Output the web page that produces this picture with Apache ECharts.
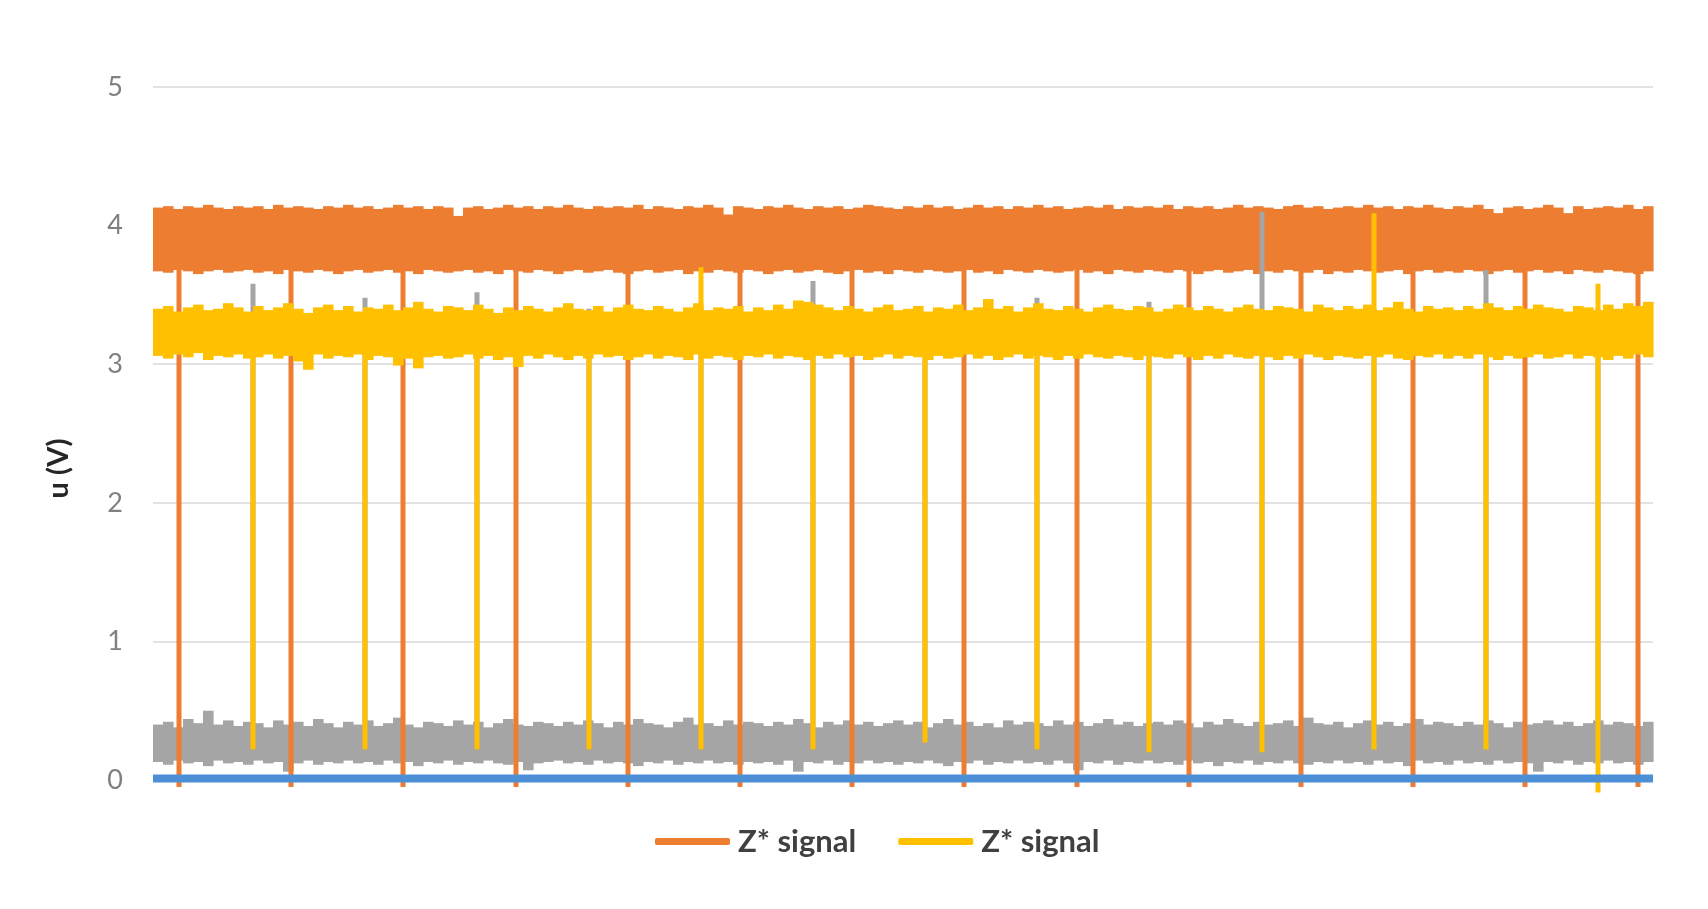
<!DOCTYPE html>
<html>
<head>
<meta charset="utf-8">
<title>Z* signal</title>
<script src="https://cdn.jsdelivr.net/npm/echarts@6/dist/echarts.min.js"></script>
<style>
  html, body { margin: 0; padding: 0; background: #fff; }
  #main { width: 1708px; height: 909px; }
</style>
</head>
<body>
<div id="main"></div>
<script>
// x = sample index (0..1500), the noise envelopes are read every 10 samples
const STEP = 10

// orange Z* signal: upper / lower edge of the noise band
const orangeHi = [
  4.13,4.14,4.12,4.14,4.13,4.15,4.13,4.12,4.14,4.13,
  4.14,4.12,4.15,4.13,4.14,4.13,4.12,4.14,4.13,4.15,
  4.13,4.14,4.12,4.13,4.15,4.13,4.14,4.12,4.14,4.13,
  4.07,4.13,4.14,4.12,4.13,4.15,4.13,4.14,4.12,4.14,
  4.13,4.15,4.13,4.12,4.14,4.13,4.14,4.13,4.15,4.12,
  4.14,4.13,4.12,4.14,4.13,4.15,4.13,4.08,4.14,4.13,
  4.12,4.14,4.13,4.15,4.13,4.12,4.14,4.13,4.14,4.12,
  4.13,4.15,4.14,4.13,4.12,4.14,4.13,4.15,4.13,4.14,
  4.12,4.13,4.15,4.13,4.14,4.12,4.14,4.13,4.15,4.13,
  4.14,4.12,4.13,4.14,4.13,4.15,4.12,4.14,4.13,4.14,
  4.13,4.15,4.12,4.14,4.13,4.14,4.12,4.13,4.15,4.13,
  4.14,4.13,4.12,4.14,4.15,4.13,4.14,4.12,4.13,4.14,
  4.13,4.15,4.13,4.14,4.12,4.14,4.13,4.15,4.13,4.12,
  4.14,4.13,4.15,4.12,4.09,4.13,4.14,4.12,4.13,4.15,
  4.13,4.09,4.14,4.12,4.13,4.14,4.13,4.15,4.12,4.14
]
const orangeLo = [
  3.67,3.66,3.68,3.67,3.65,3.67,3.68,3.66,3.67,3.68,
  3.66,3.67,3.65,3.68,3.67,3.66,3.68,3.67,3.65,3.67,
  3.68,3.66,3.67,3.68,3.66,3.67,3.65,3.68,3.67,3.66,
  3.67,3.68,3.66,3.67,3.65,3.68,3.67,3.66,3.68,3.67,
  3.65,3.67,3.68,3.66,3.67,3.68,3.66,3.65,3.67,3.68,
  3.66,3.67,3.68,3.65,3.67,3.66,3.68,3.67,3.66,3.68,
  3.67,3.65,3.67,3.68,3.66,3.67,3.68,3.66,3.65,3.67,
  3.68,3.66,3.67,3.65,3.68,3.67,3.66,3.68,3.67,3.66,
  3.67,3.68,3.66,3.67,3.65,3.68,3.67,3.66,3.68,3.67,
  3.66,3.67,3.68,3.66,3.67,3.65,3.68,3.67,3.66,3.68,
  3.67,3.66,3.68,3.67,3.65,3.67,3.68,3.66,3.67,3.68,
  3.65,3.67,3.66,3.68,3.67,3.66,3.68,3.65,3.67,3.66,
  3.68,3.67,3.66,3.67,3.68,3.65,3.67,3.68,3.66,3.67,
  3.66,3.68,3.67,3.65,3.67,3.68,3.66,3.67,3.68,3.66,
  3.67,3.65,3.68,3.67,3.66,3.68,3.67,3.66,3.65,3.67
]

// yellow Z* signal band
const yellowHi = [
  3.40,3.42,3.38,3.41,3.43,3.39,3.40,3.44,3.41,3.38,
  3.42,3.39,3.41,3.44,3.40,3.37,3.41,3.43,3.39,3.42,
  3.38,3.41,3.40,3.43,3.39,3.41,3.45,3.40,3.38,3.42,
  3.41,3.39,3.43,3.40,3.37,3.41,3.39,3.42,3.40,3.38,
  3.41,3.44,3.40,3.39,3.42,3.38,3.41,3.43,3.40,3.39,
  3.42,3.40,3.38,3.41,3.44,3.39,3.41,3.40,3.42,3.38,
  3.41,3.39,3.43,3.40,3.46,3.45,3.43,3.41,3.39,3.42,
  3.40,3.38,3.41,3.43,3.39,3.40,3.42,3.38,3.41,3.40,
  3.43,3.39,3.41,3.47,3.40,3.42,3.38,3.41,3.44,3.40,
  3.39,3.42,3.40,3.38,3.41,3.43,3.40,3.39,3.42,3.41,
  3.38,3.40,3.43,3.41,3.39,3.42,3.40,3.38,3.41,3.43,
  3.40,3.39,3.42,3.41,3.40,3.38,3.43,3.41,3.39,3.42,
  3.40,3.43,3.39,3.41,3.45,3.40,3.38,3.42,3.40,3.41,
  3.39,3.42,3.40,3.44,3.41,3.39,3.42,3.40,3.43,3.41,
  3.40,3.38,3.42,3.41,3.39,3.43,3.40,3.44,3.42,3.45
]
const yellowLo = [
  3.06,3.04,3.07,3.05,3.08,3.03,3.06,3.05,3.07,3.04,
  3.05,3.07,3.04,3.06,3.02,2.96,3.07,3.04,3.06,3.05,
  3.07,3.03,3.06,3.05,2.99,3.04,2.97,3.05,3.06,3.04,
  3.05,3.07,3.04,3.06,3.03,3.05,2.98,3.06,3.04,3.07,
  3.05,3.03,3.06,3.04,3.07,3.05,3.06,3.03,3.05,3.07,
  3.04,3.06,3.05,3.03,3.07,3.04,3.06,3.05,3.03,3.06,
  3.05,3.07,3.04,3.06,3.05,3.03,3.06,3.04,3.07,3.05,
  3.06,3.03,3.05,3.07,3.04,3.06,3.05,3.03,3.06,3.04,
  3.05,3.07,3.04,3.06,3.03,3.05,3.07,3.04,3.06,3.05,
  3.03,3.06,3.04,3.07,3.05,3.04,3.06,3.05,3.03,3.06,
  3.05,3.04,3.07,3.05,3.03,3.06,3.04,3.07,3.05,3.04,
  3.06,3.05,3.03,3.06,3.04,3.07,3.05,3.03,3.06,3.05,
  3.04,3.06,3.05,3.07,3.04,3.03,3.06,3.05,3.07,3.04,
  3.06,3.04,3.07,3.05,3.03,3.06,3.04,3.05,3.07,3.04,
  3.05,3.07,3.04,3.06,3.05,3.03,3.06,3.04,3.07,3.05
]

// gray trace band
const grayHi = [
  0.40,0.42,0.38,0.44,0.41,0.50,0.40,0.43,0.39,0.42,
  0.41,0.38,0.43,0.40,0.42,0.39,0.44,0.41,0.38,0.42,
  0.40,0.43,0.39,0.41,0.45,0.40,0.38,0.42,0.41,0.39,
  0.43,0.40,0.42,0.38,0.41,0.44,0.40,0.39,0.42,0.41,
  0.39,0.42,0.40,0.43,0.41,0.38,0.42,0.40,0.44,0.41,
  0.40,0.38,0.42,0.45,0.40,0.41,0.39,0.43,0.40,0.42,
  0.41,0.39,0.42,0.40,0.44,0.41,0.38,0.42,0.40,0.43,
  0.40,0.42,0.39,0.41,0.43,0.40,0.42,0.38,0.41,0.44,
  0.40,0.42,0.39,0.41,0.38,0.43,0.40,0.42,0.41,0.39,
  0.43,0.40,0.42,0.39,0.41,0.44,0.40,0.42,0.39,0.41,
  0.42,0.40,0.43,0.41,0.38,0.42,0.40,0.44,0.41,0.39,
  0.42,0.40,0.41,0.43,0.39,0.45,0.41,0.40,0.42,0.38,
  0.41,0.43,0.40,0.42,0.39,0.41,0.44,0.40,0.42,0.41,
  0.39,0.42,0.40,0.43,0.41,0.38,0.42,0.40,0.41,0.43,
  0.40,0.42,0.39,0.41,0.43,0.40,0.42,0.41,0.39,0.42
]
const grayLo = [
  0.13,0.11,0.14,0.12,0.13,0.10,0.14,0.12,0.13,0.11,
  0.14,0.12,0.13,0.06,0.12,0.14,0.11,0.13,0.12,0.14,
  0.12,0.13,0.11,0.14,0.12,0.13,0.10,0.13,0.12,0.14,
  0.11,0.13,0.12,0.14,0.12,0.11,0.13,0.07,0.12,0.13,
  0.14,0.12,0.13,0.11,0.14,0.12,0.13,0.12,0.10,0.13,
  0.12,0.14,0.11,0.13,0.12,0.14,0.12,0.13,0.11,0.13,
  0.12,0.13,0.11,0.14,0.06,0.13,0.12,0.14,0.11,0.13,
  0.12,0.14,0.12,0.13,0.11,0.13,0.12,0.14,0.12,0.10,
  0.13,0.12,0.14,0.11,0.13,0.12,0.14,0.12,0.13,0.11,
  0.14,0.12,0.07,0.13,0.12,0.14,0.11,0.13,0.12,0.14,
  0.12,0.13,0.11,0.14,0.12,0.13,0.10,0.13,0.12,0.14,
  0.11,0.13,0.12,0.14,0.12,0.11,0.13,0.12,0.14,0.12,
  0.13,0.11,0.14,0.12,0.13,0.10,0.14,0.12,0.13,0.11,
  0.14,0.12,0.13,0.11,0.14,0.12,0.13,0.12,0.06,0.13,
  0.12,0.14,0.11,0.13,0.12,0.14,0.12,0.13,0.11,0.13
]

// blue trace, one value every 10 samples (0..1500)
const blueVals = [
  0.01,0.01,0.01,0.01,0.01,0.01,0.01,0.01,0.01,0.01,
  0.01,0.01,0.01,0.01,0.01,0.01,0.01,0.01,0.01,0.01,
  0.01,0.01,0.01,0.01,0.01,0.01,0.01,0.01,0.01,0.01,
  0.01,0.01,0.01,0.01,0.01,0.01,0.01,0.01,0.01,0.01,
  0.01,0.01,0.01,0.01,0.01,0.01,0.01,0.01,0.01,0.01,
  0.01,0.01,0.01,0.01,0.01,0.01,0.01,0.01,0.01,0.01,
  0.01,0.01,0.01,0.01,0.01,0.01,0.01,0.01,0.01,0.01,
  0.01,0.01,0.01,0.01,0.01,0.01,0.01,0.01,0.01,0.01,
  0.01,0.01,0.01,0.01,0.01,0.01,0.01,0.01,0.01,0.01,
  0.01,0.01,0.01,0.01,0.01,0.01,0.01,0.01,0.01,0.01,
  0.01,0.01,0.01,0.01,0.01,0.01,0.01,0.01,0.01,0.01,
  0.01,0.01,0.01,0.01,0.01,0.01,0.01,0.01,0.01,0.01,
  0.01,0.01,0.01,0.01,0.01,0.01,0.01,0.01,0.01,0.01,
  0.01,0.01,0.01,0.01,0.01,0.01,0.01,0.01,0.01,0.01,
  0.01,0.01,0.01,0.01,0.01,0.01,0.01,0.01,0.01,0.01,
  0.01
]

// orange drop-outs (sample index, lowest value)
const orangeDipX = [26, 138, 250, 363, 475, 587, 699, 811, 924, 1036, 1148, 1260, 1372, 1485]
const orangeDipTop = [3.7, 3.7, 3.7, 3.7, 3.7, 3.7, 3.7, 3.7, 3.7, 3.7, 3.7, 3.7, 3.7, 3.7]
const orangeDipBottom = [-0.05, -0.05, -0.05, -0.05, -0.05, -0.05, -0.05, -0.05, -0.05, -0.05, -0.05, -0.05, -0.05, -0.05]

// yellow drop-outs and the gray spikes that go with them
const yellowDipX = [100, 212, 324, 436, 548, 660, 772, 884, 996, 1109, 1221, 1333, 1445]
const yellowDipTop = [3.2, 3.2, 3.2, 3.2, 3.7, 3.2, 3.2, 3.2, 3.2, 3.2, 4.09, 3.2, 3.58]
const yellowDipBottom = [0.22, 0.22, 0.22, 0.22, 0.22, 0.22, 0.27, 0.22, 0.2, 0.2, 0.22, 0.22, -0.09]
const grayDipTop = [3.58, 3.48, 3.52, 3.4, 3.4, 3.6, 3.35, 3.48, 3.45, 4.1, 3.4, 3.68, 3.4]
const grayDipBottom = [0.3, 0.3, 0.3, 0.3, 0.3, 0.3, 0.3, 0.3, 0.3, 0.3, 0.3, 0.3, 0.3]

const band = (lo, hi) => hi.map((h, i) => [i * STEP, lo[i], h])
const sticks = (xs, bottom, top) => xs.map((x, i) => [x, bottom[i], top[i]])

// one block per sample step, from lower to upper edge
const bandItem = (params, api) => {
  const a = api.coord([api.value(0), api.value(2)])
  const b = api.coord([api.value(0) + STEP, api.value(1)])
  return {
    type: 'rect',
    shape: { x: a[0], y: a[1], width: b[0] - a[0] + 0.6, height: b[1] - a[1] },
    style: { fill: api.visual('color') }
  }
}
const stickItem = (params, api) => {
  const top = api.coord([api.value(0), api.value(2)])
  const bot = api.coord([api.value(0), api.value(1)])
  return {
    type: 'rect',
    shape: { x: top[0] - 2.5, y: top[1], width: 5, height: bot[1] - top[1] },
    style: { fill: api.visual('color') }
  }
}

const chart = echarts.init(document.getElementById('main'))
chart.setOption({
  animation: false,
  textStyle: { fontFamily: 'Lato' },
  grid: { left: 153, right: 55, top: 87, bottom: 129 },
  legend: {
    data: ['Z* signal 1', 'Z* signal 2'],
    formatter: () => 'Z* signal',
    left: 650,
    top: 821,
    icon: 'roundRect',
    itemWidth: 75,
    itemHeight: 7,
    itemGap: 42,
    textStyle: { fontSize: 31, fontWeight: 'bold', color: '#404040', fontFamily: 'Lato', padding: [0, 0, 0, 3] }
  },
  xAxis: { type: 'value', min: 0, max: 1500, show: false },
  yAxis: {
    type: 'value',
    min: 0,
    max: 5,
    interval: 1,
    name: 'u (V)',
    nameLocation: 'middle',
    nameGap: 80,
    nameTextStyle: { fontSize: 29, fontWeight: 'bold', color: '#262626', fontFamily: 'Lato', padding: [0, 70, 0, 0] },
    axisLine: { show: false },
    axisTick: { show: false },
    axisLabel: { fontSize: 27, color: '#808080', margin: 30 },
    splitLine: { lineStyle: { color: '#d9d9d9', width: 1.5 } }
  },
  series: [
    {
      type: 'line', name: 'blue', silent: true, showSymbol: false, clip: false,
      data: blueVals.map((v, i) => [i * STEP, v]),
      lineStyle: { color: '#4d8fd6', width: 8 }, itemStyle: { color: '#4d8fd6' }
    },
    { type: 'custom', name: 'gray', silent: true, renderItem: bandItem, encode: { x: 0, y: [1, 2] },
      itemStyle: { color: '#a5a5a5' }, data: band(grayLo, grayHi) },
    { type: 'custom', name: 'Z* signal 1', silent: true, renderItem: bandItem, encode: { x: 0, y: [1, 2] },
      itemStyle: { color: '#ed7d31' }, data: band(orangeLo, orangeHi) },
    { type: 'custom', name: 'Z* signal 1', silent: true, renderItem: stickItem, encode: { x: 0, y: [1, 2] },
      itemStyle: { color: '#ed7d31' }, data: sticks(orangeDipX, orangeDipBottom, orangeDipTop) },
    { type: 'custom', name: 'gray', silent: true, renderItem: stickItem, encode: { x: 0, y: [1, 2] },
      itemStyle: { color: '#a5a5a5' }, data: sticks(yellowDipX, grayDipBottom, grayDipTop) },
    { type: 'custom', name: 'Z* signal 2', silent: true, renderItem: bandItem, encode: { x: 0, y: [1, 2] },
      itemStyle: { color: '#ffc000' }, data: band(yellowLo, yellowHi) },
    { type: 'custom', name: 'Z* signal 2', silent: true, renderItem: stickItem, encode: { x: 0, y: [1, 2] },
      itemStyle: { color: '#ffc000' }, data: sticks(yellowDipX, yellowDipBottom, yellowDipTop) }
  ]
})
</script>
</body>
</html>
